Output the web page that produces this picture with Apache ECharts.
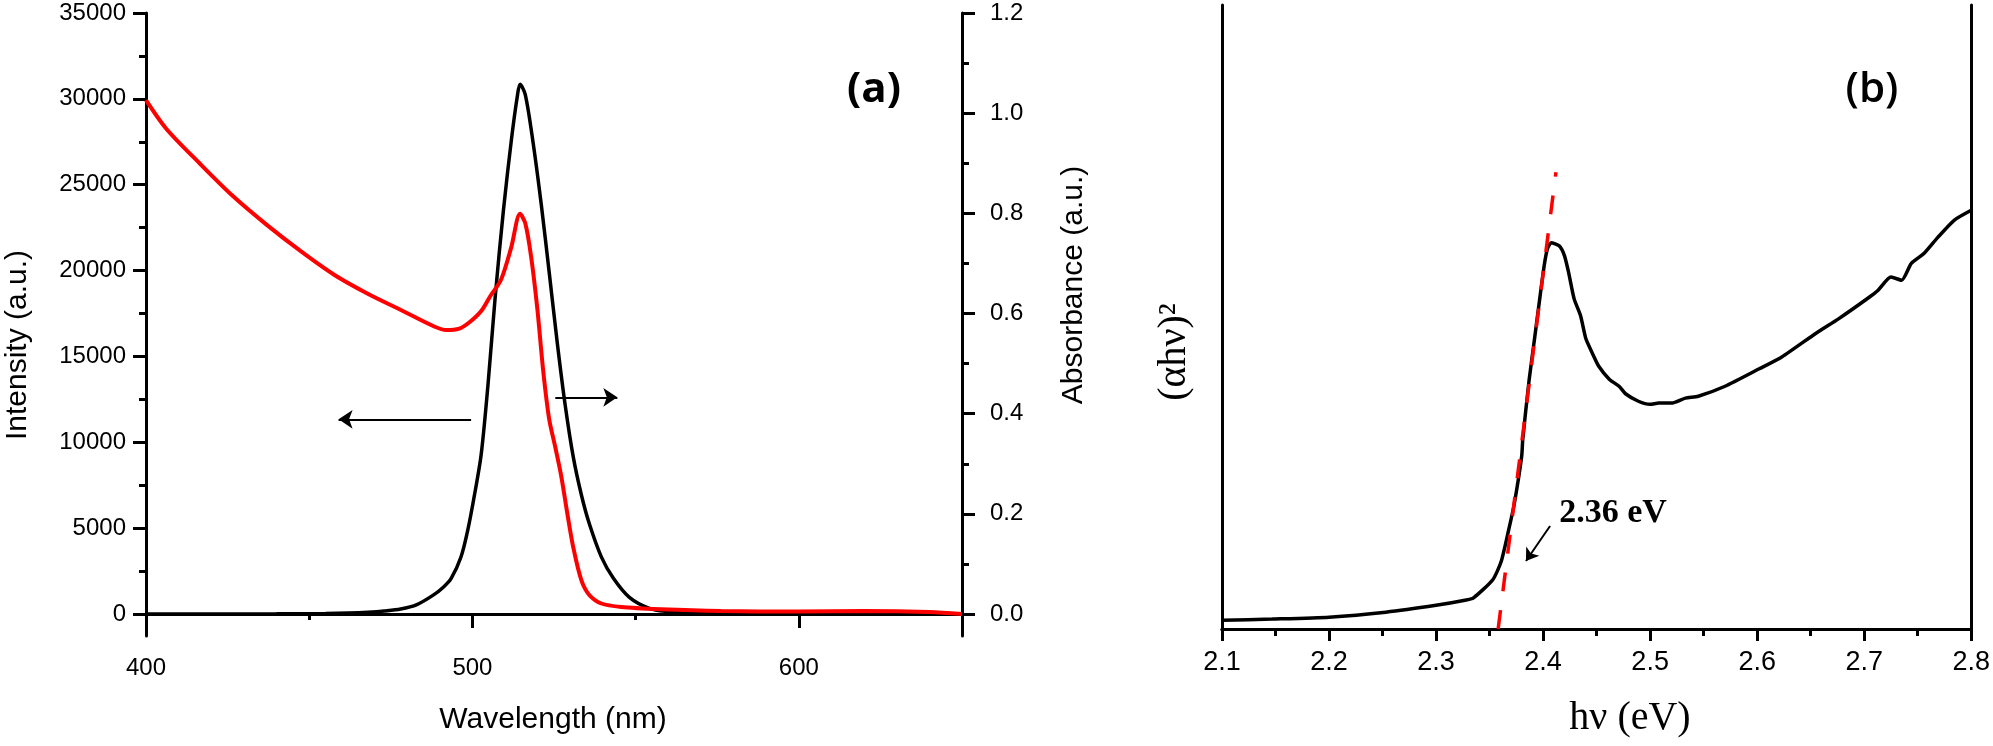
<!DOCTYPE html>
<html><head><meta charset="utf-8">
<script src="https://cdn.jsdelivr.net/npm/echarts@6/dist/echarts.min.js"></script>
<style>html,body{margin:0;padding:0;background:#fff}#c{width:1993px;height:746px}</style>
</head><body><div id="c"></div>
<script>
// ---- Panel (a): emission (left axis) ----
const emWavelength = [400, 420, 440, 455, 462, 468, 473, 478, 483, 488, 491, 493.5, 496.5, 498.6, 500.7, 502.7, 504.8, 507, 509.5, 512, 513.8, 514.6, 516.2, 518.6, 521.1, 523.5, 526, 528.4, 530.9, 533.4, 535.8, 539.5, 543.2, 548.1, 554.2, 560, 564, 580, 600, 650];
const emIntensity = [0, 0, 10, 30, 60, 110, 180, 290, 550, 1100, 1550, 2080, 3320, 4900, 7000, 9300, 13400, 18500, 23500, 27700, 30200, 30850, 30250, 27450, 23850, 19950, 15800, 12200, 9150, 6930, 5270, 3330, 2080, 970, 330, 130, 80, 20, 0, 0];
// ---- Panel (a): absorbance (right axis) ----
const absWavelength = [400, 406.2, 416.4, 426.7, 437, 447.3, 457.5, 467.8, 478.1, 488.3, 492, 496, 499, 502.7, 505.5, 508.8, 511.9, 514.6, 516.2, 518, 519.9, 521.7, 523.5, 525.4, 527.2, 529.1, 530.9, 533.4, 535.8, 539.5, 545.6, 557.8, 576.2, 600, 620, 640, 650];
const absValue = [1.026, 0.969, 0.900, 0.834, 0.777, 0.725, 0.678, 0.640, 0.607, 0.574, 0.567, 0.570, 0.582, 0.605, 0.635, 0.668, 0.732, 0.799, 0.780, 0.713, 0.609, 0.485, 0.390, 0.333, 0.276, 0.200, 0.133, 0.067, 0.038, 0.021, 0.014, 0.0095, 0.006, 0.005, 0.006, 0.004, 0.0];
// ---- Panel (b): Tauc plot ----
const photonEnergy = [2.10, 2.147, 2.20, 2.253, 2.30, 2.327, 2.335, 2.353, 2.361, 2.368, 2.373, 2.38, 2.381, 2.387, 2.392, 2.396, 2.401, 2.404, 2.4075, 2.415, 2.42, 2.424, 2.429, 2.435, 2.44, 2.446, 2.452, 2.462, 2.471, 2.477, 2.489, 2.50, 2.508, 2.52, 2.533, 2.545, 2.57, 2.602, 2.623, 2.655, 2.676, 2.705, 2.713, 2.725, 2.735, 2.744, 2.756, 2.769, 2.784, 2.80];
const taucValue = [1.4, 1.6, 1.9, 2.7, 3.8, 4.6, 5.0, 7.9, 10.9, 16.0, 20.0, 27.7, 30.4, 40.0, 46.5, 51.8, 58.2, 60.9, 61.9, 61.4, 59.8, 57.0, 52.9, 50.2, 46.5, 44.2, 42.1, 40.0, 38.9, 37.7, 36.5, 36.0, 36.2, 36.2, 37.0, 37.3, 38.9, 41.7, 43.6, 47.4, 49.7, 53.2, 54.3, 56.4, 55.9, 58.6, 60.2, 62.8, 65.5, 67.1];
const fitEnergy = [2.358, 2.412];
const fitValue = [0, 73.2];
// ---- Tick labels ----
const intensityTicks = [0, 5000, 10000, 15000, 20000, 25000, 30000, 35000];
const intensityMinorTicks = [2500, 7500, 12500, 17500, 22500, 27500, 32500];
const absTicks = [0, 0.2, 0.4, 0.6, 0.8, 1.0, 1.2];
const absMinorTicks = [0.1, 0.3, 0.5, 0.7, 0.9, 1.1];
const wavelengthTicks = [400, 500, 600];
const wavelengthMinorTicks = [450, 550];

const zip = (a, b) => a.map((v, i) => [v, b[i]]);
const SANS = '"Liberation Sans", Arial, sans-serif';
const SERIF = '"Liberation Serif", "Times New Roman", serif';
const INT_MIN = -1280, INT_MAX = 35000;
const ABS_MIN = INT_MIN * 1.2 / INT_MAX, ABS_MAX = 1.2;
const axLine = { show: true, lineStyle: { color: '#000', width: 3 } };
const noLine = { show: false };
const center = { align: 'center', verticalAlign: 'middle', textAlign: 'center', textVerticalAlign: 'middle', fill: '#000' };

const chart = echarts.init(document.getElementById('c'), null, { renderer: 'canvas' });
chart.setOption({
  animation: false,
  backgroundColor: '#fff',
  grid: [
    { left: 146, top: 13, width: 816, height: 623 },
    { left: 1222, top: 5, width: 751, height: 624 }
  ],
  xAxis: [
    { gridIndex: 0, type: 'value', min: 400, max: 650, position: 'bottom',
      axisLine: axLine, splitLine: { show: false },
      axisTick: { show: true, customValues: wavelengthTicks, length: 14, lineStyle: { color: '#000', width: 3 } },
      axisLabel: { customValues: wavelengthTicks, fontSize: 24, fontFamily: SANS, color: '#000', margin: 20, formatter: v => String(v) } },
    { gridIndex: 0, type: 'value', min: 400, max: 650, position: 'bottom',
      axisLine: noLine, splitLine: { show: false }, axisLabel: { show: false },
      axisTick: { show: true, customValues: wavelengthMinorTicks, length: 6, lineStyle: { color: '#000', width: 3 } } },
    { gridIndex: 0, type: 'value', min: 400, max: 650, position: 'top',
      axisLine: axLine, splitLine: { show: false }, axisLabel: { show: false }, axisTick: { show: false } },
    { gridIndex: 1, type: 'value', min: 2.1, max: 2.8, interval: 0.1, position: 'bottom',
      axisLine: axLine, splitLine: { show: false },
      axisTick: { show: true, length: 12, lineStyle: { color: '#000', width: 3 } },
      minorTick: { show: true, splitNumber: 2, length: 7, lineStyle: { color: '#000', width: 3 } },
      axisLabel: { fontSize: 27, fontFamily: SANS, color: '#000', margin: 20, formatter: v => v.toFixed(1) } },
    { gridIndex: 1, type: 'value', min: 2.1, max: 2.8, position: 'top',
      axisLine: axLine, splitLine: { show: false }, axisLabel: { show: false }, axisTick: { show: false } }
  ],
  yAxis: [
    { gridIndex: 0, type: 'value', min: INT_MIN, max: INT_MAX, position: 'left',
      axisLine: axLine, splitLine: { show: false },
      axisTick: { show: true, customValues: intensityTicks, length: 13, lineStyle: { color: '#000', width: 3 } },
      axisLabel: { customValues: intensityTicks, fontSize: 24, fontFamily: SANS, color: '#000', margin: 20, formatter: v => String(v) } },
    { gridIndex: 0, type: 'value', min: INT_MIN, max: INT_MAX, position: 'left',
      axisLine: noLine, splitLine: { show: false }, axisLabel: { show: false },
      axisTick: { show: true, customValues: intensityMinorTicks, length: 7, lineStyle: { color: '#000', width: 3 } } },
    { gridIndex: 0, type: 'value', min: ABS_MIN, max: ABS_MAX, position: 'right',
      axisLine: axLine, splitLine: { show: false },
      axisTick: { show: true, customValues: absTicks, length: 13, lineStyle: { color: '#000', width: 3 } },
      axisLabel: { customValues: absTicks, fontSize: 24, fontFamily: SANS, color: '#000', margin: 28, formatter: v => v.toFixed(1) } },
    { gridIndex: 0, type: 'value', min: ABS_MIN, max: ABS_MAX, position: 'right',
      axisLine: noLine, splitLine: { show: false }, axisLabel: { show: false },
      axisTick: { show: true, customValues: absMinorTicks, length: 7, lineStyle: { color: '#000', width: 3 } } },
    { gridIndex: 1, type: 'value', min: 0, max: 100, position: 'left',
      axisLine: axLine, splitLine: { show: false }, axisLabel: { show: false }, axisTick: { show: false } },
    { gridIndex: 1, type: 'value', min: 0, max: 100, position: 'right',
      axisLine: axLine, splitLine: { show: false }, axisLabel: { show: false }, axisTick: { show: false } }
  ],
  series: [
    { name: 'Emission', type: 'line', xAxisIndex: 0, yAxisIndex: 0, data: zip(emWavelength, emIntensity),
      showSymbol: false, smooth: 0.3, lineStyle: { color: '#000', width: 3.5 }, itemStyle: { color: '#000' }, z: 3,
      markLine: { silent: true, symbol: ['none', 'arrow'], symbolSize: 14, label: { show: false }, emphasis: { disabled: true },
        lineStyle: { color: '#000', width: 2, type: 'solid' },
        data: [
          [{ coord: [499.6, 11336] }, { coord: [459, 11336] }],
          [{ coord: [525.4, 12620] }, { coord: [544.4, 12620] }]
        ] } },
    { name: 'Absorbance', type: 'line', xAxisIndex: 0, yAxisIndex: 2, data: zip(absWavelength, absValue),
      showSymbol: false, smooth: 0.3, lineStyle: { color: '#ff0000', width: 4 }, itemStyle: { color: '#ff0000' }, z: 4 },
    { name: 'Tauc', type: 'line', xAxisIndex: 3, yAxisIndex: 4, data: zip(photonEnergy, taucValue),
      showSymbol: false, smooth: 0.2, lineStyle: { color: '#000', width: 3.5 }, itemStyle: { color: '#000' }, z: 3,
      markLine: { silent: true, symbol: ['none', 'arrow'], symbolSize: 12, label: { show: false }, emphasis: { disabled: true },
        lineStyle: { color: '#000', width: 2, type: 'solid' },
        data: [[{ coord: [2.4065, 16.5] }, { coord: [2.384, 10.9] }]] } },
    { name: 'Fit', type: 'line', xAxisIndex: 3, yAxisIndex: 4, data: zip(fitEnergy, fitValue),
      showSymbol: false, lineStyle: { color: '#ff0000', width: 3.5, type: [19, 19] }, itemStyle: { color: '#ff0000' }, z: 5 }
  ],
  graphic: [
    { type: 'text', x: 18, y: 345, rotation: Math.PI / 2,
      style: Object.assign({ text: 'Intensity (a.u.)', fontSize: 30, fontFamily: SANS }, center) },
    { type: 'text', x: 1074, y: 285, rotation: Math.PI / 2,
      style: Object.assign({ text: 'Absorbance (a.u.)', fontSize: 30, fontFamily: SANS }, center) },
    { type: 'text', x: 553, y: 720,
      style: Object.assign({ text: 'Wavelength (nm)', fontSize: 30, fontFamily: SANS }, center) },
    { type: 'text', x: 874, y: 90,
      style: Object.assign({ text: '(a)', fontSize: 42, fontWeight: 'bold', fontFamily: '"Open Sans", sans-serif' }, center) },
    { type: 'text', x: 1872, y: 90,
      style: Object.assign({ text: '(b)', fontSize: 42, fontWeight: 600, fontFamily: '"Open Sans", sans-serif' }, center) },
    { type: 'text', x: 1174, y: 352, rotation: Math.PI / 2,
      style: Object.assign({ text: '(\u03B1h\u03BD)\u00B2', fontSize: 40, fontFamily: SERIF }, center) },
    { type: 'text', x: 1630, y: 718,
      style: Object.assign({ text: 'h\u03BD (eV)', fontSize: 40, fontFamily: SERIF }, center) },
    { type: 'text', x: 1613, y: 513,
      style: Object.assign({ text: '2.36 eV', fontSize: 34, fontWeight: 'bold', fontFamily: SERIF }, center) }
  ]
});
</script>
</body></html>
